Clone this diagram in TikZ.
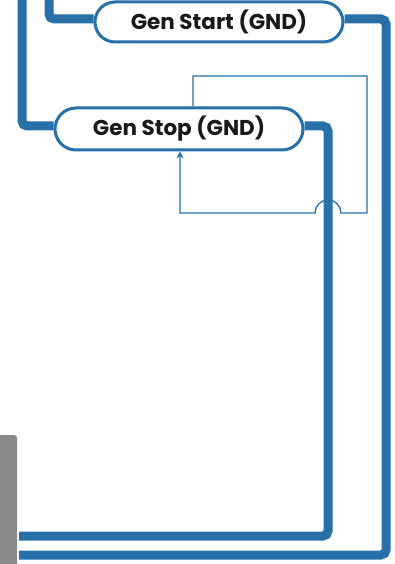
\documentclass[tikz,border=0pt]{standalone}
\usepackage{fontspec}
\setmainfont{Poppins}
\usetikzlibrary{positioning,arrows.meta,calc,shapes.misc}
\definecolor{wireblue}{HTML}{2770A8}
\definecolor{sidegray}{HTML}{8A8A8A}
\tikzset{
  >={Stealth[length=2.2mm]},
  wire/.style={line width=9pt,wireblue,rounded corners=5pt},
  sense/.style={-{Stealth[length=7pt,width=7pt]},line width=1.3pt,wireblue},
  pinbox/.style={draw=wireblue,line width=3pt,fill=white,rounded rectangle,
    minimum width=248pt,minimum height=40pt,inner sep=0pt,
    font=\fontsize{21.5}{24}\selectfont\bfseries,text=black!90},
}

\begin{document}
\begin{tikzpicture}[x=1pt,y=-1pt]
  \useasboundingbox[fill=white] (0,0) rectangle (394,564);
  % side tab
  \fill[sidegray,rounded corners=3pt] (-5,435) rectangle (17,570);
  % free ends
  \coordinate (inA) at (49,0);
  \coordinate (inB) at (22,0);
  \coordinate (outA) at (19,555);
  \coordinate (outB) at (19,536);
  % the two pins
  \node[pinbox] (genstart) at (219,22) {Gen Start (GND)};
  \node[pinbox,minimum height=42pt] (genstop) at (179,129) {Gen Stop (GND)};
  % thick wires
  \draw[wire] (inA) |- ([yshift=3pt]genstart.west);
  \draw[wire] ([yshift=3pt]genstart.east) -| (386,555) -- (outA);
  \draw[wire] (inB) |- ([yshift=3pt]genstop.west);
  \draw[wire] ([yshift=3pt]genstop.east) -| (328,536) -- (outB);
  % loop-back with hop over the wire
  \draw[sense] ([xshift=14pt]genstop.north) -- (193,76) -- (367,76) -- (367,213)
    -- (341,213) arc[start angle=0,end angle=-180,radius=13] -- (180,213)
    -- ([xshift=1pt]genstop.south);
\end{tikzpicture}
\end{document}
